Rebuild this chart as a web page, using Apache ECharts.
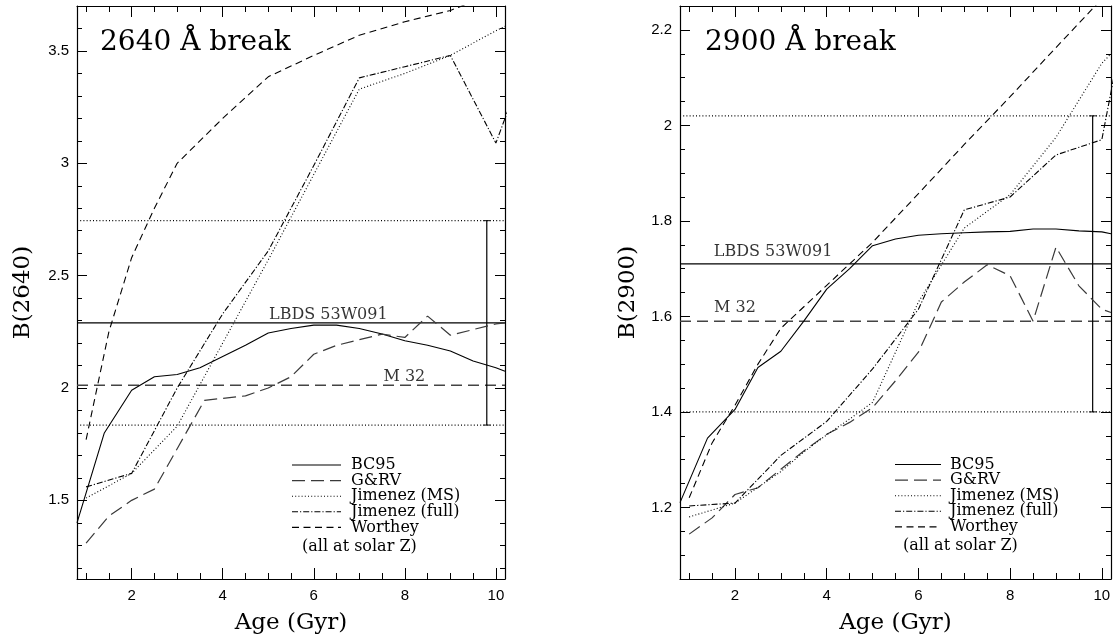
<!DOCTYPE html>
<html>
<head>
<meta charset="utf-8">
<script src="https://cdn.jsdelivr.net/npm/echarts@6/dist/echarts.min.js"></script>
<style>
  html, body { margin: 0; padding: 0; background: #fff; }
  #chart { width: 1114px; height: 644px; }
</style>
</head>
<body>
<div id="chart"></div>
<script>
// ---- 2640 Å break: model tracks (age in Gyr, break strength) ----
const bc95Age2640 = [0.8, 1.4, 2, 2.5, 3, 3.5, 4, 4.5, 5, 5.5, 6, 6.5, 7, 7.5, 8, 8.5, 9, 9.5, 10, 10.2];
const bc95Val2640 = [1.40, 1.80, 1.99, 2.05, 2.06, 2.09, 2.14, 2.19, 2.245, 2.265, 2.28, 2.28, 2.265, 2.24, 2.21, 2.19, 2.165, 2.12, 2.09, 2.075];
const grvAge2640 = [1, 1.5, 2, 2.5, 3, 3.6, 4.5, 5, 5.5, 6, 6.5, 7, 7.5, 8, 8.5, 9, 9.5, 10, 10.2];
const grvVal2640 = [1.31, 1.43, 1.50, 1.55, 1.73, 1.945, 1.965, 2.0, 2.05, 2.15, 2.19, 2.215, 2.24, 2.225, 2.32, 2.235, 2.26, 2.285, 2.29];
const jmsAge2640 = [1, 2, 3, 4, 5, 6, 7, 8, 9, 10, 10.2];
const jmsVal2640 = [1.51, 1.62, 1.83, 2.2, 2.57, 2.95, 3.33, 3.40, 3.48, 3.59, 3.61];
const jfullAge2640 = [1, 2, 3, 4, 5, 6, 7, 8, 9, 10, 10.5];
const jfullVal2640 = [1.56, 1.62, 2.0, 2.33, 2.61, 2.99, 3.38, 3.43, 3.48, 3.09, 3.365];
const wortheyAge2640 = [1, 1.5, 2, 2.5, 3, 4, 5, 6, 7, 8, 9, 10];
const wortheyVal2640 = [1.77, 2.25, 2.58, 2.80, 3.0, 3.2, 3.385, 3.48, 3.57, 3.63, 3.68, 3.76];

// ---- 2900 Å break ----
const bc95Age2900 = [0.8, 1.4, 2, 2.5, 3, 3.5, 4, 4.5, 5, 5.5, 6, 6.5, 7, 7.5, 8, 8.5, 9, 9.5, 10, 10.2];
const bc95Val2900 = [1.21, 1.345, 1.405, 1.493, 1.527, 1.59, 1.657, 1.70, 1.748, 1.762, 1.77, 1.773, 1.775, 1.777, 1.778, 1.783, 1.783, 1.779, 1.777, 1.773];
const grvAge2900 = [1, 1.5, 2, 2.5, 3, 3.5, 4, 4.5, 5, 5.5, 6, 6.5, 7, 7.5, 8, 8.5, 9, 9.5, 10, 10.2];
const grvVal2900 = [1.144, 1.178, 1.227, 1.241, 1.28, 1.318, 1.353, 1.378, 1.409, 1.465, 1.525, 1.63, 1.672, 1.708, 1.685, 1.59, 1.745, 1.664, 1.615, 1.608];
const jmsAge2900 = [1, 2, 3, 3.5, 4, 4.5, 5, 6, 7, 8, 9, 10, 10.2];
const jmsVal2900 = [1.18, 1.209, 1.275, 1.316, 1.352, 1.385, 1.42, 1.63, 1.785, 1.855, 1.975, 2.13, 2.15];
const jfullAge2900 = [1, 2, 3, 4, 5, 6, 7, 8, 9, 10, 11];
const jfullVal2900 = [1.203, 1.209, 1.309, 1.38, 1.49, 1.615, 1.823, 1.85, 1.938, 1.97, 2.47];
const wortheyAge2900 = [1, 1.5, 2, 2.5, 3, 4, 5, 6, 7, 8, 9, 10];
const wortheyVal2900 = [1.22, 1.335, 1.414, 1.50, 1.575, 1.665, 1.755, 1.857, 1.96, 2.06, 2.163, 2.265];

// Observed values: [LBDS 53W091, its lower bound, its upper bound, M 32]
const obs2640 = [2.29, 1.835, 2.745, 2.012];
const obs2900 = [1.71, 1.40, 2.02, 1.59];
const errBarAge = 9.8;

// Axis ranges and tick labels
const ageRange = [0.8, 10.2];
const ageTicks = [2, 4, 6, 8, 10];
const range2640 = [1.15, 3.7];
const ticks2640 = [1.5, 2, 2.5, 3, 3.5];
const range2900 = [1.05, 2.25];
const ticks2900 = [1.2, 1.4, 1.6, 1.8, 2, 2.2];

const seriesNames = ['BC95', 'G&RV', 'Jimenez (MS)', 'Jimenez (full)', 'Worthey'];
const noteText = '(all at solar Z)';

function steps(from, to, step) {
  const out = [];
  for (let v = from; v <= to + 1e-9; v += step) out.push(+v.toFixed(3));
  return out;
}
const ageMinor = steps(1, 10, 0.5);
const minor2640 = steps(1.2, 3.7, 0.1);
const minor2900 = steps(1.05, 2.25, 0.05);

const pts = (xs, ys) => xs.map((x, i) => [x, ys[i]]);

const SERIF = 'DejaVu Serif';
const SANS = 'Liberation Sans';

const styles = [
  { color: '#000', width: 1.1, type: 'solid' },
  { color: '#3a3a3a', width: 1.2, type: [13, 6] },
  { color: '#000', width: 1.1, type: [1, 2.2] },
  { color: '#000', width: 1.1, type: [6, 2, 1.2, 2] },
  { color: '#000', width: 1.1, type: [7, 4.5] }
];

const grids = [
  { left: 77, top: 6, width: 428, height: 573 },
  { left: 680, top: 6, width: 431, height: 573 }
];

function xAxes(g) {
  const base = { gridIndex: g, type: 'value', min: ageRange[0], max: ageRange[1], splitLine: { show: false } };
  const line = { show: true, onZero: false, lineStyle: { color: '#000', width: 1.2 } };
  return [
    Object.assign({}, base, {
      position: 'bottom', axisLine: line,
      axisTick: { show: true, inside: true, length: 11, customValues: ageTicks, lineStyle: { color: '#000', width: 1 } },
      axisLabel: { show: true, customValues: ageTicks, margin: 9, color: '#000', fontFamily: SANS, fontSize: 15 },
      name: 'Age (Gyr)', nameLocation: 'middle', nameGap: 33,
      nameTextStyle: { fontFamily: SERIF, fontSize: 23, color: '#000' }
    }),
    Object.assign({}, base, {
      position: 'bottom', axisLine: { show: false },
      axisTick: { show: true, inside: true, length: 6, customValues: ageMinor, lineStyle: { color: '#000', width: 1 } },
      axisLabel: { show: false }
    }),
    Object.assign({}, base, {
      position: 'top', axisLine: line,
      axisTick: { show: true, inside: true, length: 11, customValues: ageTicks, lineStyle: { color: '#000', width: 1 } },
      axisLabel: { show: false }
    }),
    Object.assign({}, base, {
      position: 'top', axisLine: { show: false },
      axisTick: { show: true, inside: true, length: 6, customValues: ageMinor, lineStyle: { color: '#000', width: 1 } },
      axisLabel: { show: false }
    })
  ];
}

function yAxes(g, range, major, minor, title, gap) {
  const base = { gridIndex: g, type: 'value', min: range[0], max: range[1], splitLine: { show: false } };
  const line = { show: true, onZero: false, lineStyle: { color: '#000', width: 1.2 } };
  return [
    Object.assign({}, base, {
      position: 'left', axisLine: line,
      axisTick: { show: true, inside: true, length: 10, customValues: major, lineStyle: { color: '#000', width: 1 } },
      axisLabel: { show: true, customValues: major, margin: 8, color: '#000', fontFamily: SANS, fontSize: 15 },
      name: title, nameLocation: 'middle', nameGap: gap, nameRotate: 90,
      nameTextStyle: { fontFamily: SERIF, fontSize: 23, color: '#000' }
    }),
    Object.assign({}, base, {
      position: 'left', axisLine: { show: false },
      axisTick: { show: true, inside: true, length: 5, customValues: minor, lineStyle: { color: '#000', width: 1 } },
      axisLabel: { show: false }
    }),
    Object.assign({}, base, {
      position: 'right', axisLine: line,
      axisTick: { show: true, inside: true, length: 10, customValues: major, lineStyle: { color: '#000', width: 1 } },
      axisLabel: { show: false }
    }),
    Object.assign({}, base, {
      position: 'right', axisLine: { show: false },
      axisTick: { show: true, inside: true, length: 5, customValues: minor, lineStyle: { color: '#000', width: 1 } },
      axisLabel: { show: false }
    })
  ];
}

function modelSeries(g, tracks) {
  return tracks.map((t, i) => ({
    type: 'line', name: seriesNames[i], xAxisIndex: g * 4, yAxisIndex: g * 4,
    data: pts(t[0], t[1]), symbol: 'none', clip: true, silent: true, z: 3,
    lineStyle: { color: styles[i].color, width: styles[i].width, type: styles[i].type }
  }));
}

function obsSeries(g, obs, lbdsLabelAge, lbdsDist, m32LabelAge, m32Dist) {
  const ax = { xAxisIndex: g * 4, yAxisIndex: g * 4, symbol: 'none', silent: true, clip: true };
  const hline = (v, ls) => Object.assign({ type: 'line', data: [[ageRange[0], v], [ageRange[1], v]], lineStyle: ls, z: 2 }, ax);
  const lab = (txt, x, v, dist) => ({
    type: 'scatter', xAxisIndex: g * 4, yAxisIndex: g * 4, silent: true, symbolSize: 0,
    data: [[x, v]],
    label: { show: true, position: 'top', distance: dist, formatter: txt, fontFamily: SERIF, fontSize: 16, color: '#000' }
  });
  return [
    hline(obs[0], { color: '#000', width: 1.1, type: 'solid' }),
    hline(obs[1], { color: '#000', width: 1.1, type: [1, 2.2] }),
    hline(obs[2], { color: '#000', width: 1.1, type: [1, 2.2] }),
    hline(obs[3], { color: '#444', width: 1.5, type: [11, 6] }),
    Object.assign({ type: 'line', data: [[errBarAge, obs[1]], [errBarAge, obs[2]]], lineStyle: { color: '#000', width: 1.2 }, z: 2 }, ax),
    {
      type: 'scatter', xAxisIndex: g * 4, yAxisIndex: g * 4, silent: true,
      data: [[errBarAge, obs[1]], [errBarAge, obs[2]]],
      symbol: 'rect', symbolSize: [7, 1.2], itemStyle: { color: '#000' }
    },
    lab('LBDS 53W091', lbdsLabelAge, obs[0], lbdsDist),
    lab('M 32', m32LabelAge, obs[3], m32Dist)
  ];
}

// Legend block: line samples with series names, plus a note
function legendGraphics(x0, x1, tx, y0, dy, noteX, noteY) {
  const out = [];
  seriesNames.forEach((n, i) => {
    const y = y0 + i * dy;
    out.push({
      type: 'line', silent: true,
      shape: { x1: x0, y1: y, x2: x1, y2: y },
      style: { stroke: styles[i].color, lineWidth: styles[i].width, lineDash: styles[i].type === 'solid' ? null : styles[i].type }
    });
    out.push({
      type: 'text', silent: true, x: tx, y: y,
      style: { text: n, fontFamily: SERIF, fontSize: 16, fill: '#000', verticalAlign: 'middle', align: 'left' }
    });
  });
  out.push({
    type: 'text', silent: true, x: noteX, y: noteY,
    style: { text: noteText, fontFamily: SERIF, fontSize: 16, fill: '#000', verticalAlign: 'middle', align: 'left' }
  });
  return out;
}

const titleStyle = { fontFamily: SERIF, fontSize: 28, fill: '#000', verticalAlign: 'middle', align: 'left' };

const option = {
  backgroundColor: '#fff',
  animation: false,
  grid: grids,
  xAxis: xAxes(0).concat(xAxes(1)),
  yAxis: yAxes(0, range2640, ticks2640, minor2640, 'B(2640)', 42)
    .concat(yAxes(1, range2900, ticks2900, minor2900, 'B(2900)', 40)),
  series: [].concat(
    modelSeries(0, [
      [bc95Age2640, bc95Val2640], [grvAge2640, grvVal2640], [jmsAge2640, jmsVal2640],
      [jfullAge2640, jfullVal2640], [wortheyAge2640, wortheyVal2640]
    ]),
    obsSeries(0, obs2640, 6.32, 0, 7.99, 0),
    modelSeries(1, [
      [bc95Age2900, bc95Val2900], [grvAge2900, grvVal2900], [jmsAge2900, jmsVal2900],
      [jfullAge2900, jfullVal2900], [wortheyAge2900, wortheyVal2900]
    ]),
    obsSeries(1, obs2900, 2.83, 4, 2.0, 5)
  ),
  graphic: [].concat(
    [
      { type: 'text', silent: true, x: 100, y: 43, style: Object.assign({ text: '2640 Å break' }, titleStyle) },
      { type: 'text', silent: true, x: 705, y: 43, style: Object.assign({ text: '2900 Å break' }, titleStyle) }
    ],
    legendGraphics(292, 341, 351, 465, 15.6, 302, 546.5),
    legendGraphics(895, 941, 950, 464.5, 15.6, 903, 546)
  )
};

const chart = echarts.init(document.getElementById('chart'), null, { renderer: 'canvas' });
chart.setOption(option);
</script>
</body>
</html>
